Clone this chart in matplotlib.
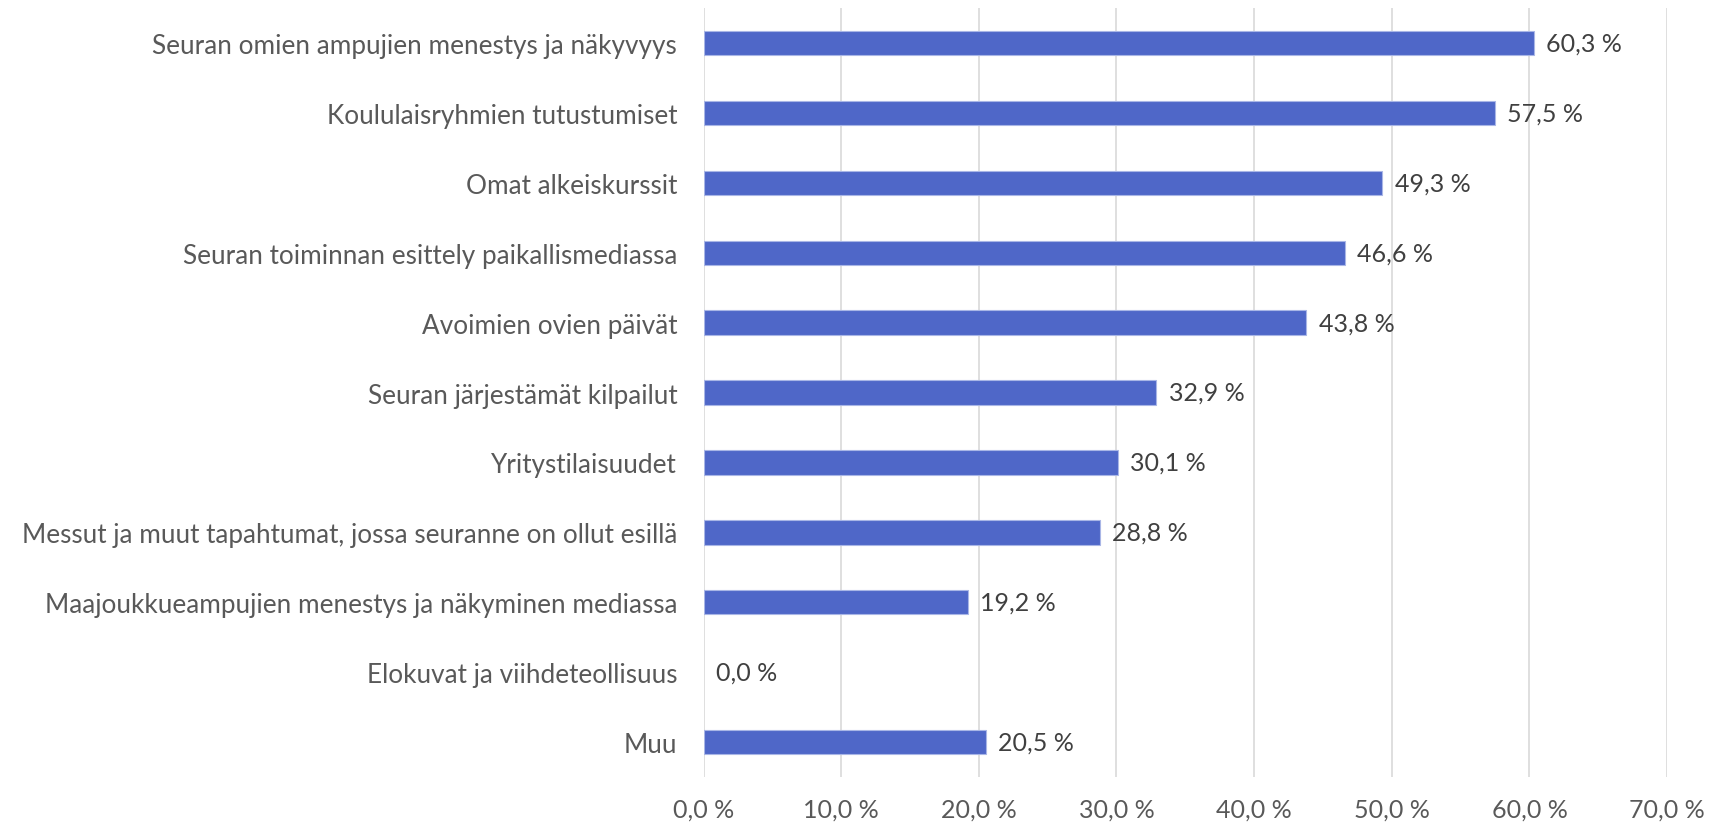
import matplotlib
matplotlib.use("Agg")
import matplotlib.pyplot as plt

# categories top to bottom
categories = [
    "Seuran omien ampujien menestys ja näkyvyys",
    "Koululaisryhmien tutustumiset",
    "Omat alkeiskurssit",
    "Seuran toiminnan esittely paikallismediassa",
    "Avoimien ovien päivät",
    "Seuran järjestämät kilpailut",
    "Yritystilaisuudet",
    "Messut ja muut tapahtumat, jossa seuranne on ollut esillä",
    "Maajoukkueampujien menestys ja näkyminen mediassa",
    "Elokuvat ja viihdeteollisuus",
    "Muu",
]
values = [60.3, 57.5, 49.3, 46.6, 43.8, 32.9, 30.1, 28.8, 19.2, 0.0, 20.5]
ticks = [0, 10, 20, 30, 40, 50, 60, 70]


def fi_pct(v):
    return f"{v:.1f}".replace(".", ",") + " %"


plt.rcParams["font.family"] = ["Lato", "DejaVu Sans"]

fig = plt.figure(figsize=(17.13, 8.28), dpi=100)
ax = fig.add_axes([0.4107, 0.0604, 0.5625, 0.9286])

y = list(range(len(categories)))
# no outline on the empty bar
lw = [0.8 if v > 0 else 0 for v in values]
ax.barh(y, values, height=0.35, color="#4f67c8", edgecolor="#a9b6e6", linewidth=lw, zorder=3)

for yi, v in zip(y, values):
    ax.text(v + 0.9, yi, fi_pct(v), va="center", ha="left", fontsize=18, color="#404040")

ax.set_xlim(0, 70)
ax.set_ylim(len(categories) - 0.5, -0.5)
ax.set_yticks(y)
ax.set_yticklabels(categories, fontsize=18.8, color="#595959")
ax.set_xticks(ticks)
ax.set_xticklabels([fi_pct(t) for t in ticks], fontsize=18, color="#595959")
ax.tick_params(axis="both", length=0)
ax.tick_params(axis="y", pad=19)
ax.tick_params(axis="x", pad=15)

ax.grid(axis="x", color="#d9d9d9", linewidth=1.2, zorder=0)
for s in ax.spines.values():
    s.set_visible(False)

fig.savefig("out.png", dpi=100)
